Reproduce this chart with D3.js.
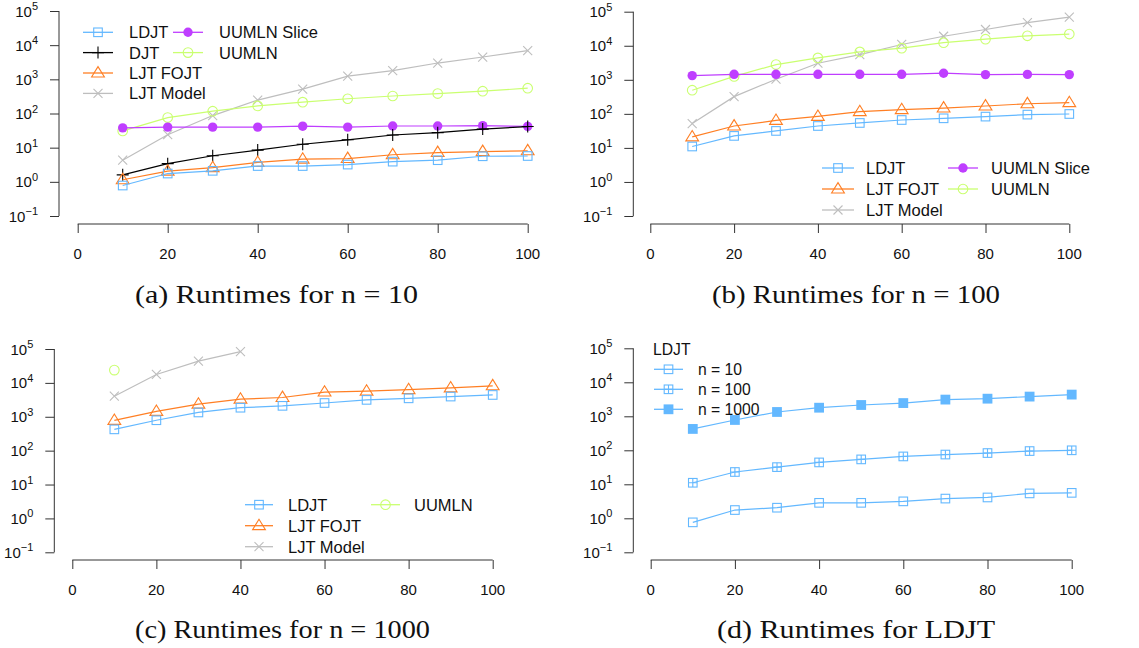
<!DOCTYPE html>
<html><head><meta charset="utf-8">
<script src="https://cdn.jsdelivr.net/npm/d3@7"></script>
<style>
body{margin:0;background:#fff;}
svg{display:block;}
</style></head><body>
<svg id="chart" width="1139" height="648"></svg>
<script>
// ---------- DATA ----------
const xValues = [10, 20, 30, 40, 50, 60, 70, 80, 90, 100];
const xTicks = [0, 20, 40, 60, 80, 100];
const yTickExps = [-1, 0, 1, 2, 3, 4, 5];

// (a) n = 10
const a_LDJT = [0.78, 1.75, 2.1, 2.9, 2.9, 3.2, 3.9, 4.3, 5.6, 5.7];
const a_DJT = [1.6, 3.4, 5.8, 8.5, 12.6, 17, 23.5, 27.5, 35, 41.5];
const a_LJTFOJT = [1.15, 2.05, 2.6, 3.7, 4.6, 4.8, 6.2, 7.2, 7.7, 8.1];
const a_LJTModel = [4.3, 24, 87, 246, 517, 1240, 1800, 3000, 4500, 6900];
const a_UUMLNSlice = [38, 40, 40, 40, 42.5, 40, 43, 43, 44, 42];
const a_UUMLN = [31, 76, 117, 167, 215, 270, 325, 383, 450, 550];

// (b) n = 100
const b_LDJT = [11, 22.5, 31.5, 44, 54, 66, 74, 83, 95, 99];
const b_LJTFOJT = [21, 44, 64, 84, 116, 133, 148, 170, 198, 213];
const b_LJTModel = [52, 320, 1040, 3070, 5500, 10900, 19000, 30000, 47600, 69600];
const b_UUMLNSlice = [1330, 1450, 1450, 1450, 1450, 1450, 1560, 1420, 1440, 1420];
const b_UUMLN = [495, 1260, 2800, 4400, 6600, 8500, 12300, 15600, 19600, 22000];

// (c) n = 1000
const c_LDJT = [425, 790, 1340, 1850, 2100, 2550, 3150, 3500, 3950, 4400];
const c_LJTFOJT = [780, 1440, 2360, 3300, 3700, 5350, 5700, 6300, 7100, 8200];
const c_LJTModel = [4050, 17700, 43900, 84000, null, null, null, null, null, null];
const c_UUMLN = [23800, null, null, null, null, null, null, null, null, null];

// (d) LDJT
const d_n10 = [0.76, 1.75, 2.05, 2.85, 2.85, 3.15, 3.8, 4.1, 5.4, 5.6];
const d_n100 = [11.1, 23, 32, 44, 54, 66, 75, 83, 95, 100];
const d_n1000 = [425, 780, 1340, 1790, 2150, 2450, 3100, 3300, 3800, 4350];

const captions = ["(a) Runtimes for n = 10", "(b) Runtimes for n = 100",
                  "(c) Runtimes for n = 1000", "(d) Runtimes for LDJT"];

// ---------- STYLE ----------
const COL = {LDJT: "#63B8FF", DJT: "#000000", FOJT: "#FF7F24", MODEL: "#BEBEBE",
             SLICE: "#BF3EFF", UUMLN: "#CAFF70"};

const svg = d3.select("#chart");
const FONT = "'Liberation Sans', Arial, Helvetica, sans-serif";

function drawMarker(g, type, x, y, color) {
  const s = 4.3;
  if (type === "square" || type === "boxplus") {
    g.append("rect").attr("x", x - s).attr("y", y - s).attr("width", 2 * s).attr("height", 2 * s)
      .attr("fill", "none").attr("stroke", color).attr("stroke-width", 1.1);
    if (type === "boxplus") {
      g.append("path").attr("d", `M${x - s},${y}H${x + s}M${x},${y - s}V${y + s}`)
        .attr("stroke", color).attr("stroke-width", 1.1).attr("fill", "none");
    }
  } else if (type === "fsquare") {
    g.append("rect").attr("x", x - s - 0.6).attr("y", y - s - 0.6).attr("width", 2 * s + 1.2).attr("height", 2 * s + 1.2)
      .attr("fill", color).attr("stroke", "none");
  } else if (type === "plus") {
    const r = 6;
    g.append("path").attr("d", `M${x - r},${y}H${x + r}M${x},${y - r}V${y + r}`)
      .attr("stroke", color).attr("stroke-width", 1.1).attr("fill", "none");
  } else if (type === "cross") {
    const r = 4.5;
    g.append("path").attr("d", `M${x - r},${y - r}L${x + r},${y + r}M${x - r},${y + r}L${x + r},${y - r}`)
      .attr("stroke", color).attr("stroke-width", 1.1).attr("fill", "none");
  } else if (type === "triangle") {
    const h = 6.4, w = 6.4;
    g.append("path").attr("d", `M${x},${y - h}L${x + w},${y + h * 0.62}L${x - w},${y + h * 0.62}Z`)
      .attr("stroke", color).attr("stroke-width", 1.1).attr("fill", "none");
  } else if (type === "circle") {
    g.append("circle").attr("cx", x).attr("cy", y).attr("r", 4.8)
      .attr("stroke", color).attr("stroke-width", 1.1).attr("fill", "none");
  } else if (type === "fcircle") {
    g.append("circle").attr("cx", x).attr("cy", y).attr("r", 4.7)
      .attr("fill", color).attr("stroke", "none");
  }
}

function drawPanel(cfg) {
  const g = svg.append("g");
  const x = d3.scaleLinear().domain([0, 100]).range([cfg.x0, cfg.x1]);
  const y = d3.scaleLog().domain([0.1, 1e5]).range([cfg.yBot, cfg.yTop]);

  // y axis
  const yAxis = d3.axisLeft(y).tickValues(yTickExps.map(e => Math.pow(10, e)))
    .tickSize(9).tickFormat(() => "");
  const ya = g.append("g").attr("transform", `translate(${cfg.yAxisX},0)`).call(yAxis);
  ya.select(".domain").attr("d", `M0,${y(0.1)}V${y(1e5)}`).attr("stroke", "#333").attr("stroke-width", 1);
  ya.selectAll(".tick line").attr("stroke", "#333");
  yTickExps.forEach(e => {
    const t = g.append("text").attr("x", cfg.yAxisX - 21).attr("y", y(Math.pow(10, e)) + 5.5)
      .attr("text-anchor", "end").attr("font-family", FONT).attr("font-size", 15).attr("fill", "#111");
    t.append("tspan").text("10");
    t.append("tspan").attr("dy", -6.5).attr("font-size", 11).text(e < 0 ? "\u2212" + Math.abs(e) : String(e));
  });

  // x axis
  const xAxis = d3.axisBottom(x).tickValues(xTicks).tickSize(9).tickFormat(() => "");
  const xa = g.append("g").attr("transform", `translate(0,${cfg.xAxisY})`).call(xAxis);
  xa.select(".domain").attr("d", `M${x(0)},0H${x(100)}`).attr("stroke", "#333");
  xa.selectAll(".tick line").attr("stroke", "#333");
  xTicks.forEach(v => {
    g.append("text").attr("x", x(v)).attr("y", cfg.xAxisY + 35)
      .attr("text-anchor", "middle").attr("font-family", FONT).attr("font-size", 15).attr("fill", "#111")
      .text(v);
  });

  // series
  cfg.series.forEach(s => {
    const pts = xValues.map((xv, i) => [xv, s.values[i]]);
    const line = d3.line().defined(d => d[1] != null).x(d => x(d[0])).y(d => y(d[1]));
    g.append("path").attr("d", line(pts)).attr("fill", "none").attr("stroke", s.color).attr("stroke-width", 1.2);
    pts.filter(d => d[1] != null).forEach(d => drawMarker(g, s.marker, x(d[0]), y(d[1]), s.color));
  });

  // legend
  const lg = cfg.legend;
  if (lg.title) {
    g.append("text").attr("x", lg.title.x).attr("y", lg.title.y).attr("dominant-baseline", "central")
      .attr("font-family", FONT).attr("font-size", lg.fontSize).attr("fill", "#111").text(lg.title.text);
  }
  lg.items.forEach(it => {
    g.append("line").attr("x1", it.lx0).attr("x2", it.lx1).attr("y1", it.y).attr("y2", it.y)
      .attr("stroke", it.s.color).attr("stroke-width", 1.3);
    drawMarker(g, it.s.marker, (it.lx0 + it.lx1) / 2, it.y, it.s.color);
    g.append("text").attr("x", it.tx).attr("y", it.y).attr("dominant-baseline", "central")
      .attr("font-family", FONT).attr("font-size", lg.fontSize).attr("fill", "#111").text(it.s.name);
  });

  // caption
  g.append("text").attr("x", cfg.capX).attr("y", cfg.capY).attr("text-anchor", "middle")
    .attr("font-family", "'Liberation Serif', 'Times New Roman', serif").attr("font-size", 25)
    .attr("textLength", cfg.capW).attr("lengthAdjust", "spacingAndGlyphs")
    .attr("fill", "#111").text(cfg.caption);
}

const S = {
  LDJT: n => ({name: "LDJT", color: COL.LDJT, marker: "square", values: n}),
  DJT: n => ({name: "DJT", color: COL.DJT, marker: "plus", values: n}),
  FOJT: n => ({name: "LJT FOJT", color: COL.FOJT, marker: "triangle", values: n}),
  MODEL: n => ({name: "LJT Model", color: COL.MODEL, marker: "cross", values: n}),
  SLICE: n => ({name: "UUMLN Slice", color: COL.SLICE, marker: "fcircle", values: n}),
  UUMLN: n => ({name: "UUMLN", color: COL.UUMLN, marker: "circle", values: n})
};

// (a)
(function () {
  const sL = S.LDJT(a_LDJT), sD = S.DJT(a_DJT), sF = S.FOJT(a_LJTFOJT), sM = S.MODEL(a_LJTModel),
        sS = S.SLICE(a_UUMLNSlice), sU = S.UUMLN(a_UUMLN);
  const ry = [32.3, 52.6, 73, 93.4];
  drawPanel({
    x0: 77.7, x1: 527.7, yBot: 216, yTop: 11, yAxisX: 59, xAxisY: 224,
    series: [sM, sU, sS, sD, sF, sL],
    legend: {fontSize: 16.5, items: [
      {s: sL, y: ry[0], lx0: 83, lx1: 113, tx: 129},
      {s: sD, y: ry[1], lx0: 83, lx1: 113, tx: 129},
      {s: sF, y: ry[2], lx0: 83, lx1: 113, tx: 129},
      {s: sM, y: ry[3], lx0: 83, lx1: 113, tx: 129},
      {s: sS, y: ry[0], lx0: 173, lx1: 203, tx: 219},
      {s: sU, y: ry[1], lx0: 173, lx1: 203, tx: 219}
    ]},
    caption: captions[0], capX: 276.5, capY: 303, capW: 283
  });
})();

// (b)
(function () {
  const sL = S.LDJT(b_LDJT), sF = S.FOJT(b_LJTFOJT), sM = S.MODEL(b_LJTModel),
        sS = S.SLICE(b_UUMLNSlice), sU = S.UUMLN(b_UUMLN);
  const ry = [168, 189, 210];
  drawPanel({
    x0: 650.3, x1: 1069.3, yBot: 216, yTop: 11.7, yAxisX: 633.3, xAxisY: 224,
    series: [sM, sU, sS, sF, sL],
    legend: {fontSize: 16.5, items: [
      {s: sL, y: ry[0], lx0: 822, lx1: 854, tx: 866},
      {s: sF, y: ry[1], lx0: 822, lx1: 854, tx: 866},
      {s: sM, y: ry[2], lx0: 822, lx1: 854, tx: 866},
      {s: sS, y: ry[0], lx0: 948, lx1: 978, tx: 991},
      {s: sU, y: ry[1], lx0: 948, lx1: 978, tx: 991}
    ]},
    caption: captions[1], capX: 856, capY: 303, capW: 288
  });
})();

// (c)
(function () {
  const sL = S.LDJT(c_LDJT), sF = S.FOJT(c_LJTFOJT), sM = S.MODEL(c_LJTModel), sU = S.UUMLN(c_UUMLN);
  const ry = [504.7, 525.7, 546.7];
  drawPanel({
    x0: 72.3, x1: 492.7, yBot: 552.3, yTop: 349, yAxisX: 54.3, xAxisY: 560,
    series: [sM, sU, sF, sL],
    legend: {fontSize: 16.5, items: [
      {s: sL, y: ry[0], lx0: 245, lx1: 273, tx: 288},
      {s: sF, y: ry[1], lx0: 245, lx1: 273, tx: 288},
      {s: sM, y: ry[2], lx0: 245, lx1: 273, tx: 288},
      {s: sU, y: ry[0], lx0: 371, lx1: 400, tx: 414}
    ]},
    caption: captions[2], capX: 282.5, capY: 638, capW: 295
  });
})();

// (d)
(function () {
  const s10 = {name: "n = 10", color: COL.LDJT, marker: "square", values: d_n10};
  const s100 = {name: "n = 100", color: COL.LDJT, marker: "boxplus", values: d_n100};
  const s1000 = {name: "n = 1000", color: COL.LDJT, marker: "fsquare", values: d_n1000};
  const ry = [369.3, 389.3, 409.3];
  drawPanel({
    x0: 650.7, x1: 1071.7, yBot: 552.3, yTop: 348.3, yAxisX: 633.3, xAxisY: 560,
    series: [s10, s100, s1000],
    legend: {fontSize: 15.7, title: {text: "LDJT", x: 653, y: 349}, items: [
      {s: s10, y: ry[0], lx0: 654, lx1: 683, tx: 698},
      {s: s100, y: ry[1], lx0: 654, lx1: 683, tx: 698},
      {s: s1000, y: ry[2], lx0: 654, lx1: 683, tx: 698}
    ]},
    caption: captions[3], capX: 856, capY: 638, capW: 278
  });
})();
</script>
</body></html>
